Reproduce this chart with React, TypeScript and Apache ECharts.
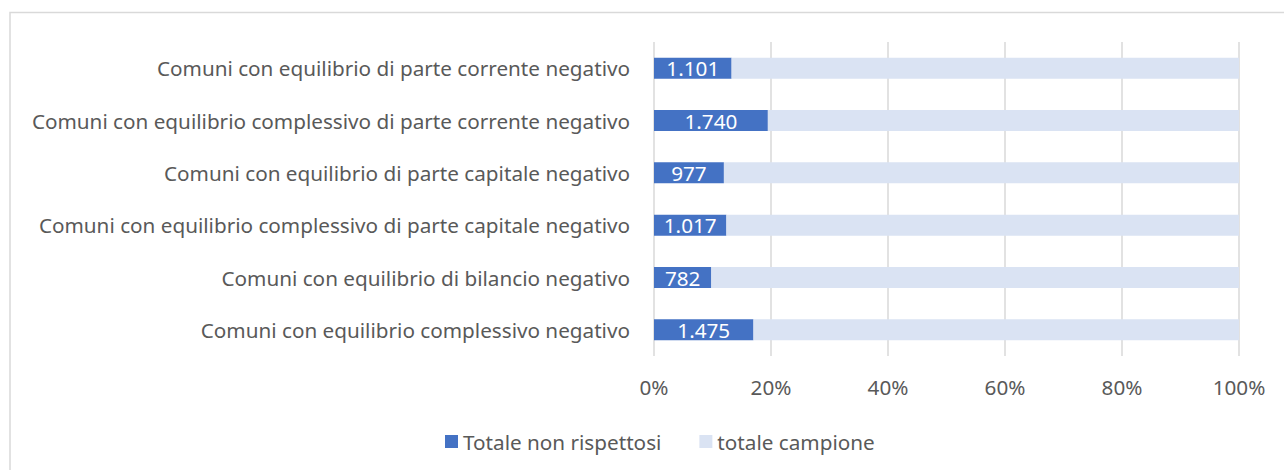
import React, { useEffect, useRef } from "react";
import * as echarts from "echarts";

const categories = [
  "Comuni con equilibrio di parte corrente negativo",
  "Comuni con equilibrio complessivo di parte corrente negativo",
  "Comuni con equilibrio di parte capitale negativo",
  "Comuni con equilibrio complessivo di parte capitale negativo",
  "Comuni con equilibrio di bilancio negativo",
  "Comuni con equilibrio complessivo negativo",
];
const nonRispettosi = [1101, 1740, 977, 1017, 782, 1475];
const totaleCampione = [7200, 7200, 7200, 7200, 7200, 7200];
const seriesNames = ["Totale non rispettosi", "totale campione"];

const FONT = "'Noto Sans', 'Open Sans', sans-serif";
const FS = 20.7;

const fmt = (n: number) => String(n).replace(/\B(?=(\d{3})+(?!\d))/g, ".");

export default function App() {
  const ref = useRef<HTMLDivElement>(null);
  useEffect(() => {
    if (!ref.current) return;
    const chart = echarts.init(ref.current, undefined, { renderer: "svg" });
    const sums = nonRispettosi.map((v, i) => v + totaleCampione[i]);
    chart.setOption({
      animation: false,
      textStyle: { fontFamily: FONT },
      graphic: [
        {
          type: "rect",
          shape: { x: 10, y: 12.5, width: 1400, height: 600 },
          style: { fill: "none", stroke: "#d9d9d9", lineWidth: 1.5 },
          silent: true,
        },
      ],
      grid: { left: 654, right: 45, top: 42, bottom: 114, containLabel: false },
      xAxis: {
        type: "value",
        min: 0,
        max: 100,
        interval: 20,
        axisLine: { show: false },
        axisTick: { show: false },
        splitLine: { show: true, lineStyle: { color: "#d9d9d9", width: 1.5 } },
        axisLabel: {
          formatter: "{value}%",
          color: "#595959",
          fontSize: FS,
          fontFamily: FONT,
          margin: 20,
        },
      },
      yAxis: {
        type: "category",
        inverse: true,
        data: categories,
        axisLine: { show: false },
        axisTick: { show: false },
        axisLabel: { color: "#595959", fontSize: FS, fontFamily: FONT, margin: 24 },
      },
      legend: {
        bottom: 13,
        left: 440,
        itemWidth: 13,
        itemHeight: 13,
        itemGap: 38,
        icon: "rect",
        textStyle: { color: "#595959", fontSize: FS, fontFamily: FONT },
        data: seriesNames,
      },
      series: [
        {
          name: seriesNames[0],
          type: "bar",
          stack: "tot",
          barWidth: 21,
          itemStyle: { color: "#4472C4" },
          label: {
            show: true,
            position: "inside",
            color: "#ffffff",
            fontSize: FS,
            fontFamily: FONT,
            formatter: (p: any) => fmt(nonRispettosi[p.dataIndex]),
          },
          data: nonRispettosi.map((v, i) => (v / sums[i]) * 100),
        },
        {
          name: seriesNames[1],
          type: "bar",
          stack: "tot",
          barWidth: 21,
          itemStyle: { color: "#DAE3F3" },
          data: totaleCampione.map((v, i) => (v / sums[i]) * 100),
        },
      ],
    });
    return () => chart.dispose();
  }, []);
  return (
    <div
      ref={ref}
      style={{ position: "fixed", left: 0, top: 0, width: 1284, height: 470, background: "#fff" }}
    />
  );
}
